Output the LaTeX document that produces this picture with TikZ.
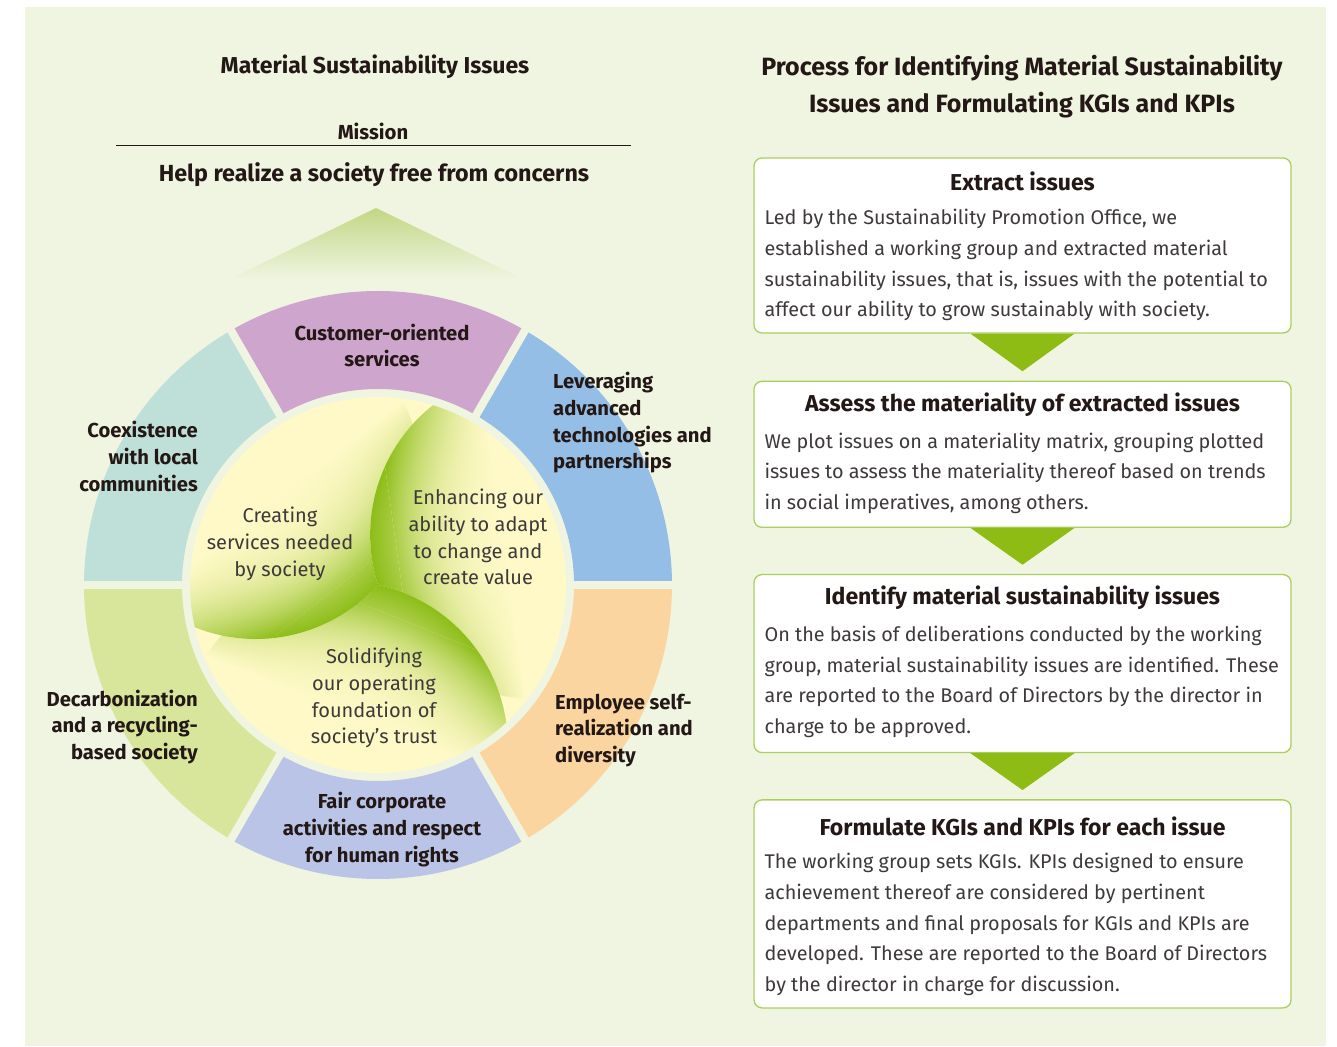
\documentclass[tikz,border=0pt]{standalone}
\usepackage{fontspec}
\setmainfont{Fira Sans}
\usepackage{tikz}
\usetikzlibrary{positioning}
\usetikzlibrary{calc}
\usetikzlibrary{fadings}
\usepackage{xcolor}

\definecolor{bgpale}{HTML}{F0F5E2}
\definecolor{inkdark}{HTML}{231815}
\definecolor{inkgrey}{HTML}{3E3A39}
\definecolor{segblue}{HTML}{94BEE5}
\definecolor{segpurple}{HTML}{CEA5CC}
\definecolor{segteal}{HTML}{BEE0D8}
\definecolor{seggreen}{HTML}{D7E69B}
\definecolor{seglavender}{HTML}{B9C4E6}
\definecolor{segorange}{HTML}{FBD59F}
\definecolor{leafyellow}{HTML}{FEF9C6}
\definecolor{leafgreen}{HTML}{8CBD18}
\definecolor{peakgreen}{HTML}{C2D784}
\definecolor{boxline}{HTML}{AACF5E}
\definecolor{stepgreen}{HTML}{8FBC14}

\pgfdeclareradialshading{leafglow}{\pgfpointorigin}{color(0bp)=(leafyellow); color(3bp)=(leafyellow); color(10bp)=(leafgreen!18!leafyellow); color(16bp)=(leafgreen!42!leafyellow); color(21bp)=(leafgreen!72!leafyellow); color(25bp)=(leafgreen); color(50bp)=(leafgreen)}
% glow fades out towards the rim end of each leaf
\begin{tikzfadingfrompicture}[name=leaffade]
  \fill[transparent!100] (-50bp,-50bp) rectangle (50bp,50bp);
  \fill[transparent!0] (-50bp,-50bp) rectangle (50bp,-21bp);
  \shade[bottom color=transparent!0, top color=transparent!100] (-50bp,-21bp) rectangle (50bp,-5bp);
\end{tikzfadingfrompicture}

\begin{document}
\begin{tikzpicture}[x=1pt, y=1pt,
  head/.style={font=\bfseries\fontsize{23}{28}\selectfont, text=inkdark, align=center, inner sep=0pt},
  ringlabel/.style={font=\bfseries\fontsize{20.2}{26.7}\selectfont, text=inkdark, inner sep=0pt},
  leaflabel/.style={font=\fontsize{20}{26.7}\selectfont, text=inkgrey, align=center, inner sep=0pt},
  stepbox/.style={draw=boxline, line width=1.3pt, fill=white, rounded corners=8pt, minimum width=537pt, inner sep=0pt},
  steptitle/.style={font=\bfseries\fontsize{23}{28}\selectfont, text=inkdark, inner sep=0pt},
  stepbody/.style={font=\fontsize{19.8}{30.6}\selectfont, text=inkgrey, align=left, inner sep=0pt, anchor=north west},
  ringgap/.style={line width=8pt, bgpale}
]

\useasboundingbox (0,0) rectangle (1337,1046);
\fill[white] (0,0) rectangle (1337,1046);
\fill[bgpale] (25,0) rectangle (1326,1039);

% left side: mission and ring
\node[head] (lefttitle) at (375,979) {Material Sustainability Issues};
\node[head, font=\bfseries\fontsize{20.3}{24}\selectfont] (mission) at (373,915) {Mission};
\draw[inkdark, line width=1pt] (116,900) -- (631,900);
\node[head, font=\bfseries\fontsize{23.3}{28}\selectfont] (missiontext) at (374,871) {Help realize a society free from concerns};

\shade[top color=peakgreen, middle color=peakgreen!75!bgpale, bottom color=bgpale] (376,838) -- (525,766) -- (228,766) -- cycle;

\coordinate (c) at (378,461);
\foreach \s/\col in {0/segblue, 60/segpurple, 120/segteal, 180/seggreen, 240/seglavender, 300/segorange}
  \fill[\col] ($(c)+(\s:294)$) arc[start angle=\s, end angle=\s+60, radius=294]
    -- ($(c)+({\s+60}:196)$) arc[start angle=\s+60, end angle=\s, radius=196] -- cycle;
\foreach \a in {0,60,...,300}
  \draw[ringgap] ($(c)+(\a:190)$) -- ($(c)+(\a:300)$);

\fill[leafyellow] (c) circle (188);
\foreach \a in {193,73,313} {
  \pgfmathsetmacro{\b}{\a-120}
  \pgfmathsetmacro{\fa}{\a-155}
  \begin{scope}
    \clip (c) arc[start angle=\b+124.73, end angle=\b+55.27, radius=165]
      arc[start angle=\b, end angle=\a, radius=188]
      arc[start angle=\a+55.27, end angle=\a+124.73, radius=165] -- cycle;
    \shade[shading=leafglow, path fading=leaffade, fading angle=\fa] ($(c)+({\a-55.27}:165)$) circle (165);
  \end{scope}
}

\node[ringlabel, align=center] (customer) at (382,700.5) {Customer-oriented\\services};
\node[ringlabel, align=left, anchor=west] (leveraging) at (553,623) {Leveraging\\advanced\\technologies and\\partnerships};
\node[ringlabel, align=right, anchor=east] (coexistence) at (198,589.5) {Coexistence\\with local\\communities};
\node[ringlabel, align=right, anchor=east] (decarbon) at (198,319) {Decarbonization\\and a recycling-\\based society};
\node[ringlabel, align=left, anchor=west] (employee) at (555,315.5) {Employee self-\\realization and\\diversity};
\node[ringlabel, align=center] (fair) at (382,216.5) {Fair corporate\\activities and respect\\for human rights};

\node[leaflabel] (creating) at (280,502) {Creating\\services needed\\by society};
\node[leaflabel] (enhancing) at (478,509) {Enhancing our\\ability to adapt\\to change and\\create value};
\node[leaflabel] (solidifying) at (374,348) {Solidifying\\our operating\\foundation of\\society's trust};

% right side: process
\node[head, font=\bfseries\fontsize{25}{37}\selectfont] (righttitle) at (1022,959) {Process for Identifying Material Sustainability\\Issues and Formulating KGIs and KPIs};

\node[stepbox, minimum height=175pt] (box1) at (1022.5,800.5) {};
\node[stepbox, minimum height=146pt, below=47pt of box1] (box2) {};
\node[stepbox, minimum height=178pt, below=46pt of box2] (box3) {};
\node[stepbox, minimum height=208pt, below=46pt of box3] (box4) {};

\foreach \i/\j in {1/2,2/3,3/4}
  \fill[stepgreen] ([xshift=-52pt]box\i.south) -- ([xshift=52pt]box\i.south) -- ($(box\i.south)!0.8!(box\j.north)$) -- cycle;

\node[steptitle] (title1) at ([yshift=-24pt]box1.north) {Extract issues};
\node[stepbody] (body1) at ([xshift=11pt, yshift=-52pt]box1.north west)
  {Led by the Sustainability Promotion Office, we\\established a working group and extracted material\\sustainability issues, that is, issues with the potential to\\affect our ability to grow sustainably with society.};

\node[steptitle] (title2) at ([yshift=-24pt]box2.north) {Assess the materiality of extracted issues};
\node[stepbody] (body2) at ([xshift=11pt, yshift=-52pt]box2.north west)
  {We plot issues on a materiality matrix, grouping plotted\\issues to assess the materiality thereof based on trends\\in social imperatives, among others.};

\node[steptitle] (title3) at ([yshift=-24pt]box3.north) {Identify material sustainability issues};
\node[stepbody] (body3) at ([xshift=11pt, yshift=-52pt]box3.north west)
  {On the basis of deliberations conducted by the working\\group, material sustainability issues are identified. These\\are reported to the Board of Directors by the director in\\charge to be approved.};

\node[steptitle] (title4) at ([yshift=-27pt]box4.north) {Formulate KGIs and KPIs for each issue};
\node[stepbody] (body4) at ([xshift=11pt, yshift=-54pt]box4.north west)
  {The working group sets KGIs. KPIs designed to ensure\\achievement thereof are considered by pertinent\\departments and final proposals for KGIs and KPIs are\\developed. These are reported to the Board of Directors\\by the director in charge for discussion.};

\end{tikzpicture}
\end{document}
